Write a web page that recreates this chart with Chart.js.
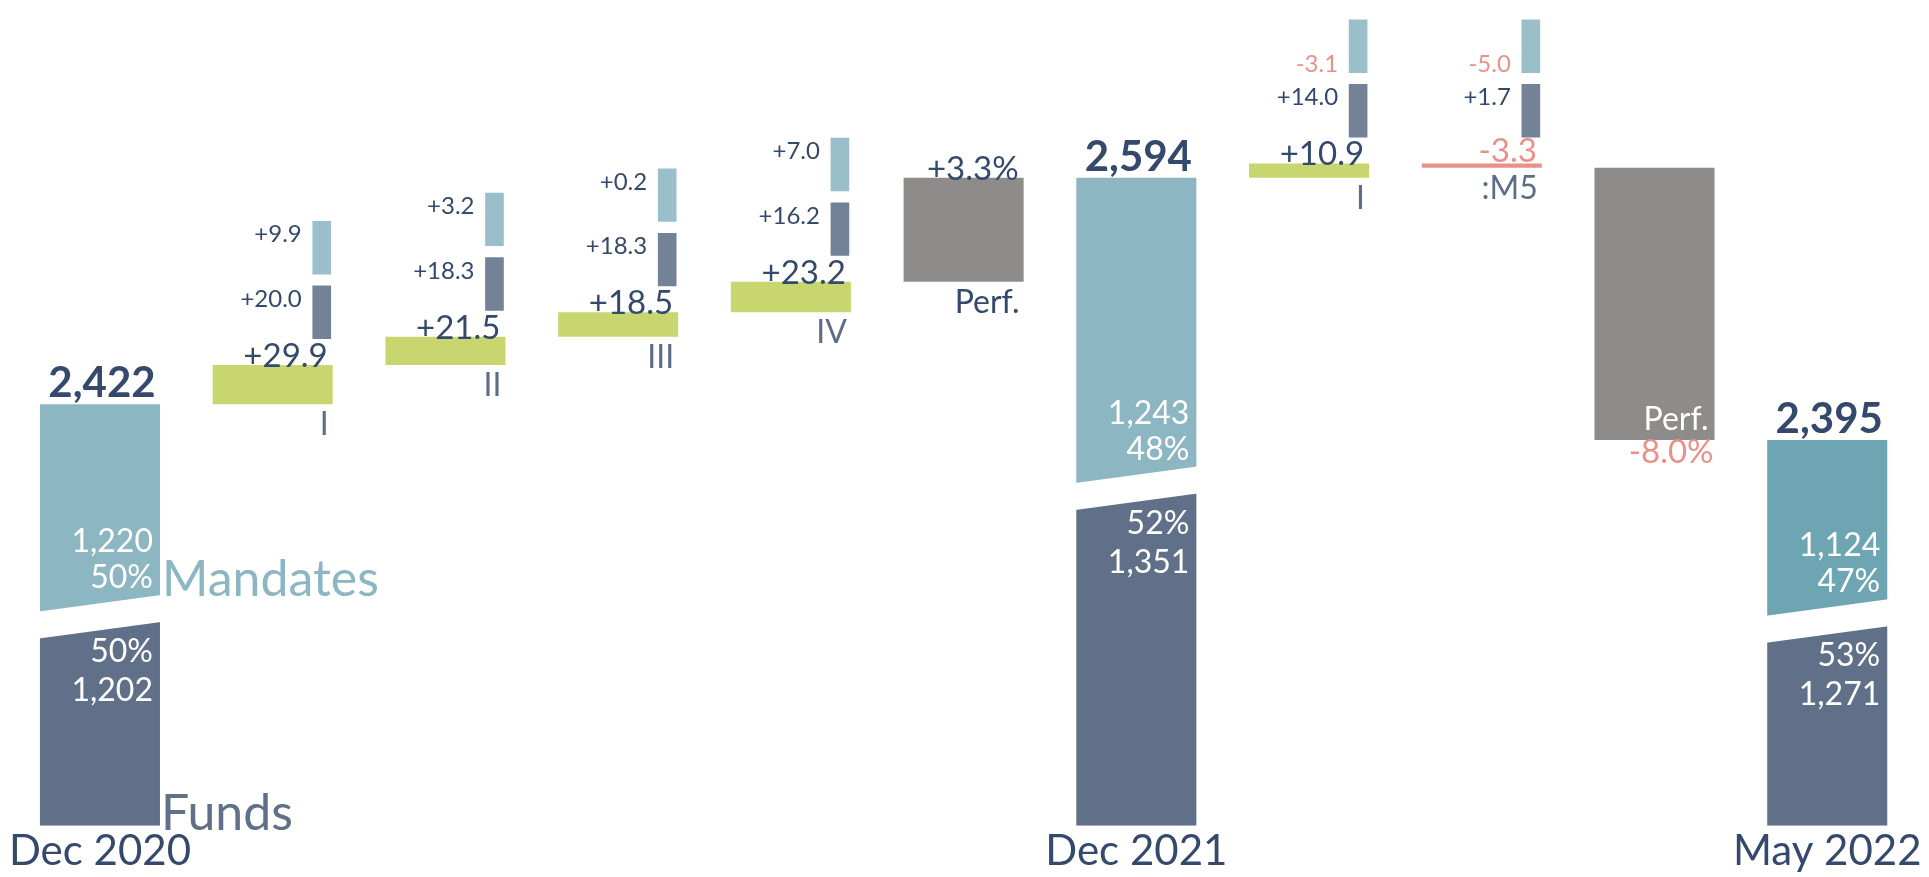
<!DOCTYPE html>
<html>
<head>
<meta charset="utf-8">
<script src="https://cdn.jsdelivr.net/npm/chart.js@4.4.1/dist/chart.umd.min.js"></script>
<style>
html,body{margin:0;padding:0;background:#ffffff;}
#wrap{width:1929px;height:877px;position:relative;}
canvas{display:block;}
</style>
</head>
<body>
<div id="wrap"><canvas id="c" width="1929" height="877"></canvas></div>
<script>
// ---------- data ----------
const categories = ['Dec 2020', '', '', '', '', '', 'Dec 2021', '', '', '', 'May 2022'];
const stepLabels = ['', 'I', 'II', 'III', 'IV', 'Perf.', '', 'I', ':M5', 'Perf.', ''];
const totalIndex = [0, 6, 10];
const totalValues = [2422, 2594, 2395];
const fundsValues = [1202, 1351, 1271];
const mandatesValues = [1220, 1243, 1124];
const fundsShare = [50, 52, 53];
const mandatesShare = [50, 48, 47];
const deltaValues = [null, 29.9, 21.5, 18.5, 23.2, 78.9, null, 10.9, -3.3, -206.6, null];
const deltaLabels = ['', '+29.9', '+21.5', '+18.5', '+23.2', '+3.3%', '', '+10.9', '-3.3', '-8.0%', ''];
const fundsFlow = [null, 20.0, 18.3, 18.3, 16.2, null, null, 14.0, 1.7, null, null];
const mandatesFlow = [null, 9.9, 3.2, 0.2, 7.0, null, null, -3.1, -5.0, null, null];
const yAxisMin = 2102;
const yAxisMax = 2729;

// ---------- style / layout constants ----------
const FONT = 'Lato, "Open Sans", sans-serif';
const C_FUNDS = '#607089';
const C_MAND = '#8cb6c2';
const C_MAND_LAST = '#6ea5b2';
const C_GREEN = '#c8d66f';
const C_GRAY = '#8d8c8a';
const C_RED = '#e8918b';
const C_NAVY = '#34496b';
const C_SLATE = '#5d6d88';
const C_SMALL_FUNDS = '#748297';
const C_SMALL_MAND = '#9bbfca';
const IND_DX = 0.284;   // indicator offset in category units
const IND_GAP = 20, IND_H = 40, IND_SP = 9; // indicator layout, value units
const SLANT = 8.25, HALF = 13.5; // split gap geometry (px)

// ---------- derived series ----------
const n = categories.length;
const fundsPart = new Array(n).fill(null);
const mandPart = new Array(n).fill(null);
const splitVal = [];
totalIndex.forEach((ci, k) => {
  const s = yAxisMin + (totalValues[k] - yAxisMin) * fundsValues[k] / totalValues[k];
  splitVal.push(s);
  fundsPart[ci] = [yAxisMin, s];
  mandPart[ci] = [s, totalValues[k]];
});
const mandColors = categories.map((c, i) => i === totalIndex[2] ? C_MAND_LAST : C_MAND);

const steps = new Array(n).fill(null);
let run = null;
for (let i = 0; i < n; i++) {
  const k = totalIndex.indexOf(i);
  if (k >= 0) { run = totalValues[k]; continue; }
  if (deltaValues[i] != null) {
    steps[i] = [run, run + deltaValues[i]];
    run += deltaValues[i];
  }
}
const stepColors = steps.map((s, i) => {
  if (!s) return C_GREEN;
  if (stepLabels[i] === 'Perf.') return C_GRAY;
  return deltaValues[i] < 0 ? C_RED : C_GREEN;
});

const indFunds = [], indMand = [], indMeta = [];
for (let i = 0; i < n; i++) {
  if (fundsFlow[i] == null) continue;
  const top = Math.max(steps[i][0], steps[i][1]);
  indFunds.push({x: i + IND_DX, y: [top + IND_GAP, top + IND_GAP + IND_H]});
  indMand.push({x: i + IND_DX, y: [top + IND_GAP + IND_H + IND_SP, top + IND_GAP + 2 * IND_H + IND_SP]});
  indMeta.push({i, f: fundsFlow[i], m: mandatesFlow[i]});
}

function fmtSigned(v) { return (v > 0 ? '+' : '') + v.toFixed(1); }
function fmtInt(v) { return v.toLocaleString('en-US'); }

// ---------- overlay plugin ----------
const overlay = {
  id: 'overlay',
  afterDatasetsDraw(chart) {
    const ctx = chart.ctx;
    const ys = chart.scales.y;
    const mandMeta = chart.getDatasetMeta(1);
    const stepMeta = chart.getDatasetMeta(2);
    const indFMeta = chart.getDatasetMeta(3);
    const indMMeta = chart.getDatasetMeta(4);
    ctx.save();
    ctx.textBaseline = 'alphabetic';

    // totals: slanted split gap + labels
    totalIndex.forEach((ci, k) => {
      const el = mandMeta.data[ci];
      const L = el.x - el.width / 2, R = el.x + el.width / 2;
      const yc = ys.getPixelForValue(splitVal[k]);
      ctx.fillStyle = '#ffffff';
      ctx.beginPath();
      ctx.moveTo(L - 1, yc + SLANT - HALF);
      ctx.lineTo(R + 1, yc - SLANT - HALF);
      ctx.lineTo(R + 1, yc - SLANT + HALF);
      ctx.lineTo(L - 1, yc + SLANT + HALF);
      ctx.closePath();
      ctx.fill();

      const mBottomR = yc - SLANT - HALF;
      const fTopR = yc - SLANT + HALF;
      ctx.fillStyle = '#ffffff';
      ctx.font = '32px ' + FONT;
      ctx.textAlign = 'right';
      ctx.fillText(mandatesShare[k] + '%', R - 7, mBottomR - 7);
      ctx.fillText(fmtInt(mandatesValues[k]), R - 7, mBottomR - 43);
      ctx.fillText(fundsShare[k] + '%', R - 7, fTopR + 40);
      ctx.fillText(fmtInt(fundsValues[k]), R - 7, fTopR + 79);

      // total label
      const top = ys.getPixelForValue(totalValues[k]);
      ctx.fillStyle = C_NAVY;
      ctx.font = 'bold 42px ' + FONT;
      ctx.textAlign = 'center';
      ctx.fillText(fmtInt(totalValues[k]), el.x + 2, top - 7);

      if (k === 0) {
        ctx.textAlign = 'left';
        ctx.font = '50px ' + FONT;
        ctx.fillStyle = C_MAND;
        ctx.fillText('Mandates', R + 2, mBottomR + 1);
        ctx.fillStyle = C_FUNDS;
        ctx.fillText('Funds', R + 1, ys.getPixelForValue(yAxisMin) + 4);
      }
    });

    // waterfall steps
    for (let i = 0; i < n; i++) {
      if (!steps[i]) continue;
      const el = stepMeta.data[i];
      const top = Math.min(el.y, el.base), bottom = Math.max(el.y, el.base);
      const R = el.x + el.width / 2;
      const neg = deltaValues[i] < 0;
      const big = (bottom - top) > 60;
      ctx.textAlign = 'right';
      if (neg && big) {
        ctx.font = '33px ' + FONT;
        ctx.fillStyle = C_RED;
        ctx.fillText(deltaLabels[i], R - 1, bottom + 23);
        ctx.font = '32px ' + FONT;
        ctx.fillStyle = '#ffffff';
        ctx.fillText(stepLabels[i], R - 6, bottom - 10);
      } else {
        ctx.font = '33px ' + FONT;
        ctx.fillStyle = neg ? C_RED : C_NAVY;
        ctx.fillText(deltaLabels[i], R - 5, neg ? top - 1 : top + 2);
        ctx.font = '32px ' + FONT;
        ctx.fillStyle = stepLabels[i] === 'Perf.' ? C_NAVY : C_SLATE;
        ctx.fillText(stepLabels[i], R - 4, bottom + 31);
      }
    }

    // indicator labels
    ctx.font = '24px ' + FONT;
    ctx.textAlign = 'right';
    indMeta.forEach((m, j) => {
      const ef = indFMeta.data[j], em = indMMeta.data[j];
      const pairs = [[ef, m.f], [em, m.m]];
      pairs.forEach(([e, v]) => {
        const t = Math.min(e.y, e.base), b = Math.max(e.y, e.base);
        const Lx = e.x - e.width / 2;
        ctx.fillStyle = v < 0 ? C_RED : C_NAVY;
        ctx.fillText(fmtSigned(v), Lx - 11, v < 0 ? b - 1 : t + 21);
      });
    });
    ctx.restore();
  }
};

// ---------- chart ----------
const barOpts = {grouped: false, barPercentage: 0.695, categoryPercentage: 1, borderWidth: 0, borderSkipped: false};
new Chart(document.getElementById('c'), {
  type: 'bar',
  data: {
    labels: categories,
    datasets: [
      Object.assign({label: 'Funds', data: fundsPart, backgroundColor: C_FUNDS}, barOpts),
      Object.assign({label: 'Mandates', data: mandPart, backgroundColor: mandColors}, barOpts),
      Object.assign({label: 'Steps', data: steps, backgroundColor: stepColors}, barOpts),
      {label: 'Funds flow', data: indFunds, xAxisID: 'x2', backgroundColor: C_SMALL_FUNDS, grouped: false, barThickness: 18, borderWidth: 0},
      {label: 'Mandates flow', data: indMand, xAxisID: 'x2', backgroundColor: C_SMALL_MAND, grouped: false, barThickness: 18, borderWidth: 0}
    ]
  },
  options: {
    responsive: false,
    animation: false,
    devicePixelRatio: 1,
    layout: {padding: {left: 13.6, right: 15.4, top: 0, bottom: 0}},
    plugins: {legend: {display: false}, tooltip: {enabled: false}},
    scales: {
      x: {
        type: 'category', offset: true,
        grid: {display: false, drawTicks: false, tickLength: 0},
        border: {display: false},
        ticks: {autoSkip: false, maxRotation: 0, minRotation: 0, padding: 5, color: C_NAVY, font: {family: FONT, size: 42, lineHeight: 0.98}}
      },
      x2: {type: 'linear', display: false, min: -0.5, max: 10.5, offset: false},
      y: {type: 'linear', display: false, min: yAxisMin, max: yAxisMax}
    }
  },
  plugins: [overlay]
});
</script>
</body>
</html>
